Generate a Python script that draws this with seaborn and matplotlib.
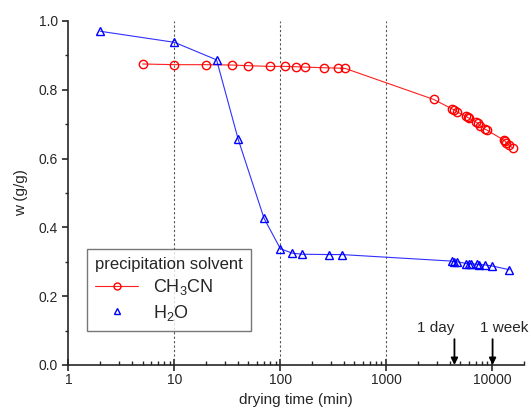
import numpy as np
import pandas as pd
import matplotlib
matplotlib.use("Agg")
import matplotlib.pyplot as plt
import seaborn as sns
from matplotlib.lines import Line2D
from matplotlib.ticker import FixedLocator, FixedFormatter, LogLocator, NullFormatter, MultipleLocator

# CH3CN precipitated sample
t_ch3cn = [5, 10, 20, 35, 50, 80, 110, 140, 170, 260, 350, 410,
           2800, 4200, 4400, 4700, 5650, 5850, 6100, 7050, 7300, 7600,
           8500, 8900, 12800, 13200, 13600, 14300, 15600]
w_ch3cn = [0.875, 0.873, 0.873, 0.872, 0.870, 0.868, 0.868, 0.867, 0.866, 0.864, 0.863, 0.862,
           0.772, 0.744, 0.742, 0.735, 0.723, 0.720, 0.717, 0.706, 0.703, 0.696,
           0.686, 0.683, 0.654, 0.651, 0.646, 0.640, 0.631]

# H2O precipitated sample
t_h2o = [2, 10, 25, 40, 70, 100, 130, 160, 285, 380,
         4150, 4400, 4700, 5700, 6000, 6300, 7150, 7500, 8500, 9900, 14500]
w_h2o = [0.970, 0.938, 0.887, 0.656, 0.427, 0.338, 0.325, 0.322, 0.321, 0.321,
         0.302, 0.300, 0.300, 0.295, 0.295, 0.294, 0.293, 0.292, 0.291, 0.288, 0.277]

decades = [1, 10, 100, 1000, 10000]
decade_labels = ["1", "10", "100", "1000", "10000"]
guide_lines = [10, 100, 1000]
marks = [("1 day", 4400), ("1 week", 10080)]

sns.set_style("ticks")
plt.rcParams["font.family"] = ["Liberation Sans", "DejaVu Sans"]
plt.rcParams["mathtext.default"] = "regular"

fig = plt.figure(figsize=(5.31, 4.09), dpi=100)
ax = fig.add_axes([0.129, 0.1076, 0.858, 0.8411])

df_a = pd.DataFrame({"t": t_ch3cn, "w": w_ch3cn})
df_b = pd.DataFrame({"t": t_h2o, "w": w_h2o})

sns.lineplot(data=df_a, x="t", y="w", ax=ax, color="#ff2020", lw=0.8,
             marker="o", markersize=6, markerfacecolor="none",
             markeredgecolor="#ff0000", markeredgewidth=1.0, zorder=3)
sns.lineplot(data=df_b, x="t", y="w", ax=ax, color="#3030ff", lw=0.8,
             marker="^", markersize=6, markerfacecolor="none",
             markeredgecolor="#0000ff", markeredgewidth=1.0, zorder=3)

for g in guide_lines:
    ax.axvline(g, color="#555555", ls=(0, (2, 2)), lw=0.8, zorder=1)

ax.set_xscale("log")
ax.set_xlim(1, 20000)
ax.set_ylim(0, 1.0)
ax.xaxis.set_major_locator(FixedLocator(decades))
ax.xaxis.set_major_formatter(FixedFormatter(decade_labels))
ax.xaxis.set_minor_locator(LogLocator(base=10, subs=np.arange(2, 10)))
ax.xaxis.set_minor_formatter(NullFormatter())
ax.yaxis.set_major_locator(MultipleLocator(0.2))
ax.yaxis.set_minor_locator(MultipleLocator(0.1))
ax.yaxis.set_major_formatter(plt.FuncFormatter(lambda v, p: f"{v:.1f}"))

ax.tick_params(axis="x", which="major", direction="inout", length=8, width=1.2, labelsize=10, pad=2)
ax.tick_params(axis="x", which="minor", direction="in", length=3, width=1.0)
ax.tick_params(axis="y", which="major", direction="out", length=4, width=1.2, labelsize=10)
ax.tick_params(axis="y", which="minor", direction="out", length=2, width=1.0)
for s in ["left", "bottom"]:
    ax.spines[s].set_linewidth(1.2)
sns.despine(ax=ax)

ax.set_xlabel("drying time (min)", fontsize=11)
ax.set_ylabel("w (g/g)", fontsize=11, labelpad=8)

for label, tx in marks:
    ax.annotate("", xy=(tx, 0.0), xytext=(tx, 0.075),
                arrowprops=dict(arrowstyle="-|>", color="black", lw=1.3,
                                mutation_scale=10, shrinkA=0, shrinkB=0))
ax.text(4400, 0.088, "1 day", ha="right", va="bottom", fontsize=11)
ax.text(13000, 0.088, "1 week", ha="center", va="bottom", fontsize=11)

handles = [
    Line2D([], [], color="#ff2020", lw=0.8, marker="o", markersize=5,
           markerfacecolor="none", markeredgecolor="#ff0000"),
    Line2D([], [], color="#3030ff", lw=0, marker="^", markersize=5,
           markerfacecolor="none", markeredgecolor="#0000ff"),
]
leg = ax.legend(handles, ["CH$_3$CN", "H$_2$O"], title="precipitation solvent",
                loc="lower left", bbox_to_anchor=(0.04, 0.099), borderaxespad=0,
                fontsize=13, title_fontsize=12, frameon=True, fancybox=False,
                edgecolor="#555555", handlelength=2.4, borderpad=0.45,
                labelspacing=0.3, handletextpad=0.8)
leg._legend_box.align = "left"
leg.get_frame().set_linewidth(1.0)

fig.savefig("out.png", dpi=100)
